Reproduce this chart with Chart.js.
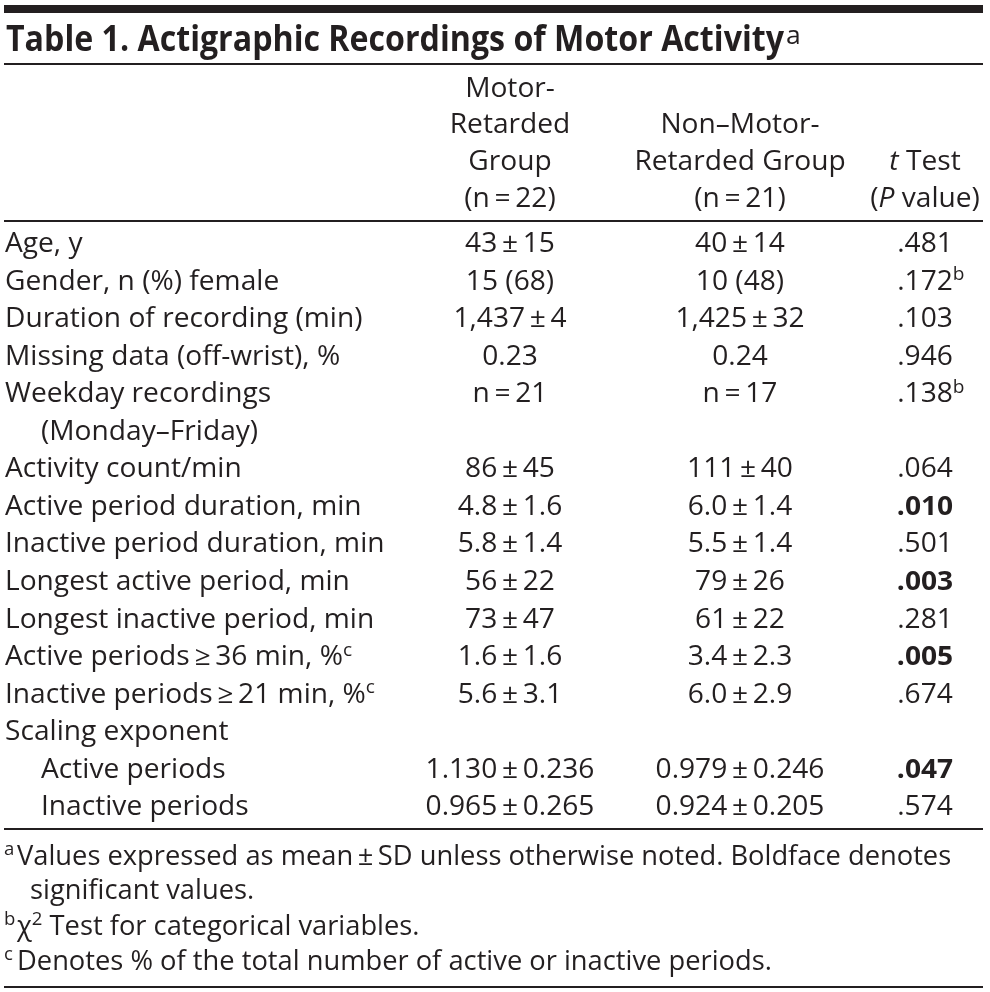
<!DOCTYPE html>
<html><head><meta charset="utf-8">
<script src="https://cdn.jsdelivr.net/npm/chart.js@4"></script>
<style>html,body{margin:0;padding:0;background:#fff}canvas{display:block}</style>
</head><body>
<canvas id="c" width="990" height="992"></canvas>
<script>
// ---------- data ----------
const tableTitle = "Table 1. Actigraphic Recordings of Motor Activity";
const tableTitleNote = "a";
const motorHeader = ["Motor-", "Retarded", "Group", "(n\u2009=\u200922)"];
const nonMotorHeader = ["Non\u2013Motor-", "Retarded Group", "(n\u2009=\u200921)"];
const testHeader = [[{t:"t", i:1}, {t:" Test"}], [{t:"("}, {t:"P", i:1}, {t:" value)"}]];
const rowLabels = [
  "Age, y", "Gender, n (%) female", "Duration of recording (min)", "Missing data (off-wrist), %",
  "Weekday recordings", "(Monday\u2013Friday)", "Activity count/min", "Active period duration, min",
  "Inactive period duration, min", "Longest active period, min", "Longest inactive period, min",
  "Active periods\u2009\u2265\u200936 min, %", "Inactive periods\u2009\u2265\u200921 min, %",
  "Scaling exponent", "Active periods", "Inactive periods"
];
const rowLevel = [0,0,0,0,0,1,0,0,0,0,0,0,0,0,1,1];
const rowLabelNotes = ["","","","","","","","","","","","c","c","","",""];
const motorRetarded = [
  "43\u2009\u00b1\u200915", "15 (68)", "1,437\u2009\u00b1\u20094", "0.23", "n\u2009=\u200921", "",
  "86\u2009\u00b1\u200945", "4.8\u2009\u00b1\u20091.6", "5.8\u2009\u00b1\u20091.4", "56\u2009\u00b1\u200922",
  "73\u2009\u00b1\u200947", "1.6\u2009\u00b1\u20091.6", "5.6\u2009\u00b1\u20093.1", "",
  "1.130\u2009\u00b1\u20090.236", "0.965\u2009\u00b1\u20090.265"
];
const nonMotorRetarded = [
  "40\u2009\u00b1\u200914", "10 (48)", "1,425\u2009\u00b1\u200932", "0.24", "n\u2009=\u200917", "",
  "111\u2009\u00b1\u200940", "6.0\u2009\u00b1\u20091.4", "5.5\u2009\u00b1\u20091.4", "79\u2009\u00b1\u200926",
  "61\u2009\u00b1\u200922", "3.4\u2009\u00b1\u20092.3", "6.0\u2009\u00b1\u20092.9", "",
  "0.979\u2009\u00b1\u20090.246", "0.924\u2009\u00b1\u20090.205"
];
const pValues = [0.481, 0.172, 0.103, 0.946, 0.138, null, 0.064, 0.010, 0.501, 0.003, 0.281, 0.005, 0.674, null, 0.047, 0.574];
const pNotes = ["","b","","","b","","","","","","","","","","",""];
const footnotes = [
  {mark:"a", segs:[{t:"Values expressed as mean\u2009\u00b1\u2009SD unless otherwise noted. Boldface denotes"}], cont:"significant values."},
  {mark:"b", segs:[{t:"\u03c7"}, {t:"2", s:1}, {t:" Test for categorical variables."}]},
  {mark:"c", segs:[{t:"Denotes % of the total number of active or inactive periods."}]}
];

// ---------- layout ----------
const W = 990, H = 992;
const FAM = '"Open Sans", "Noto Sans", sans-serif';
const INK = '#231f20';
const BODY = 26.5, TITLE = 35, SUP = 0.68;
const colAnchor = [5, 510, 740, 925];
const indentX = 41;
const rowTop = 252, rowH = 37.55;

function fontStr(size, seg, bold) {
  return (seg.i ? 'italic ' : '') + ((seg.b || bold) ? 'bold ' : '') + size + 'px ' + FAM;
}
let SX = 1, SXT = 1;
function segWidth(ctx, seg, size, sx, bold) {
  const sz = seg.s ? size * SUP : size;
  ctx.font = fontStr(sz, seg, bold);
  return ctx.measureText(seg.t).width * sx;
}
function drawRich(ctx, segs, x, y, align, size, sx, bold, centerCount) {
  const ws = segs.map(s => segWidth(ctx, s, size, sx, bold));
  const n = centerCount == null ? segs.length : centerCount;
  let tot = 0; for (let k = 0; k < n; k++) tot += ws[k];
  let cx = align === 'center' ? x - tot / 2 : x;
  segs.forEach((s, k) => {
    const sz = s.s ? size * SUP : size;
    ctx.save();
    ctx.font = fontStr(sz, s, bold);
    ctx.translate(cx, y - (s.s ? size * 0.36 : 0));
    ctx.scale(sx, 1);
    ctx.fillText(s.t, 0, 0);
    ctx.restore();
    cx += ws[k];
  });
}

// one dataset per column; each cell becomes a point placed by the scales
function cellData(arr, col) {
  const out = [];
  arr.forEach((v, r) => { if (v !== "" && v !== null) out.push({x: colAnchor[col], y: r}); });
  return out;
}
const cellTexts = [rowLabels, motorRetarded, nonMotorRetarded, pValues];

const tablePlugin = {
  id: 'tablePlugin',
  afterDatasetsDraw(chart) {
    const ctx = chart.ctx;
    ctx.save();
    ctx.fillStyle = INK;
    ctx.textBaseline = 'alphabetic';
    ctx.font = BODY + 'px ' + FAM;
    SX = 357.5 / ctx.measureText("Duration of recording (min)").width;
    ctx.font = 'bold ' + TITLE + 'px ' + FAM;
    SXT = 778 / ctx.measureText(tableTitle).width;
    const SXF = SX * 0.97;

    // rules
    ctx.fillRect(4, 5, 979, 8);
    ctx.fillRect(4, 63, 979, 2);
    ctx.fillRect(4, 220, 979, 2);
    ctx.fillRect(4, 828, 979, 2);
    ctx.fillRect(4, 986, 979, 2);

    // title
    drawRich(ctx, [{t: tableTitle}], 6, 50.5, 'left', TITLE, SXT, true);
    const tw = segWidth(ctx, {t: tableTitle}, TITLE, SXT, true);
    drawRich(ctx, [{t: tableTitleNote}], 6 + tw + 2, 43.5, 'left', 25, SX);

    // column headers
    const hb = [96.7, 133.4, 170, 206.7];
    motorHeader.forEach((t, k) => drawRich(ctx, [{t}], colAnchor[1], hb[k], 'center', BODY, SX));
    nonMotorHeader.forEach((t, k) => drawRich(ctx, [{t}], colAnchor[2], hb[k + 1], 'center', BODY, SX));
    testHeader.forEach((segs, k) => drawRich(ctx, segs, colAnchor[3], hb[k + 2], 'center', BODY, SX));

    // cells
    chart.data.datasets.forEach((ds, col) => {
      const meta = chart.getDatasetMeta(col);
      meta.data.forEach((el, k) => {
        const r = ds.data[k].y;
        if (col === 0) {
          const segs = [{t: rowLabels[r]}];
          if (rowLabelNotes[r]) segs.push({t: rowLabelNotes[r], s: 1});
          drawRich(ctx, segs, el.x + (rowLevel[r] ? indentX - colAnchor[0] : 0), el.y, 'left', BODY, SX);
        } else if (col === 3) {
          const v = pValues[r];
          const txt = v.toFixed(3).replace(/^0/, '');
          const segs = [{t: txt, b: v < 0.05 ? 1 : 0}];
          if (pNotes[r]) segs.push({t: pNotes[r], s: 1});
          drawRich(ctx, segs, el.x, el.y, 'center', BODY, SX, false, 1);
        } else {
          drawRich(ctx, [{t: cellTexts[col][r]}], el.x, el.y, 'center', BODY, SX);
        }
      });
    });

    // footnotes
    const fb = [865, 898.5, 934.5, 969.5];
    let li = 0;
    footnotes.forEach(f => {
      drawRich(ctx, [{t: f.mark, s: 1}], 4, fb[li], 'left', BODY, SXF);
      drawRich(ctx, f.segs, 17, fb[li], 'left', BODY, SXF);
      li++;
      if (f.cont) { drawRich(ctx, [{t: f.cont}], 30, fb[li], 'left', BODY, SXF); li++; }
    });
    ctx.restore();
  }
};

new Chart(document.getElementById('c'), {
  type: 'scatter',
  data: {
    datasets: cellTexts.map((arr, col) => ({
      data: cellData(arr, col), pointRadius: 0, pointHoverRadius: 0, showLine: false
    }))
  },
  options: {
    responsive: false, animation: false, events: [],
    layout: {padding: 0},
    plugins: {legend: {display: false}, tooltip: {enabled: false}},
    scales: {
      x: {type: 'linear', display: false, min: 0, max: W},
      y: {type: 'linear', display: false, reverse: true, min: -rowTop / rowH, max: (H - rowTop) / rowH}
    }
  },
  plugins: [tablePlugin]
});
</script>
</body></html>
